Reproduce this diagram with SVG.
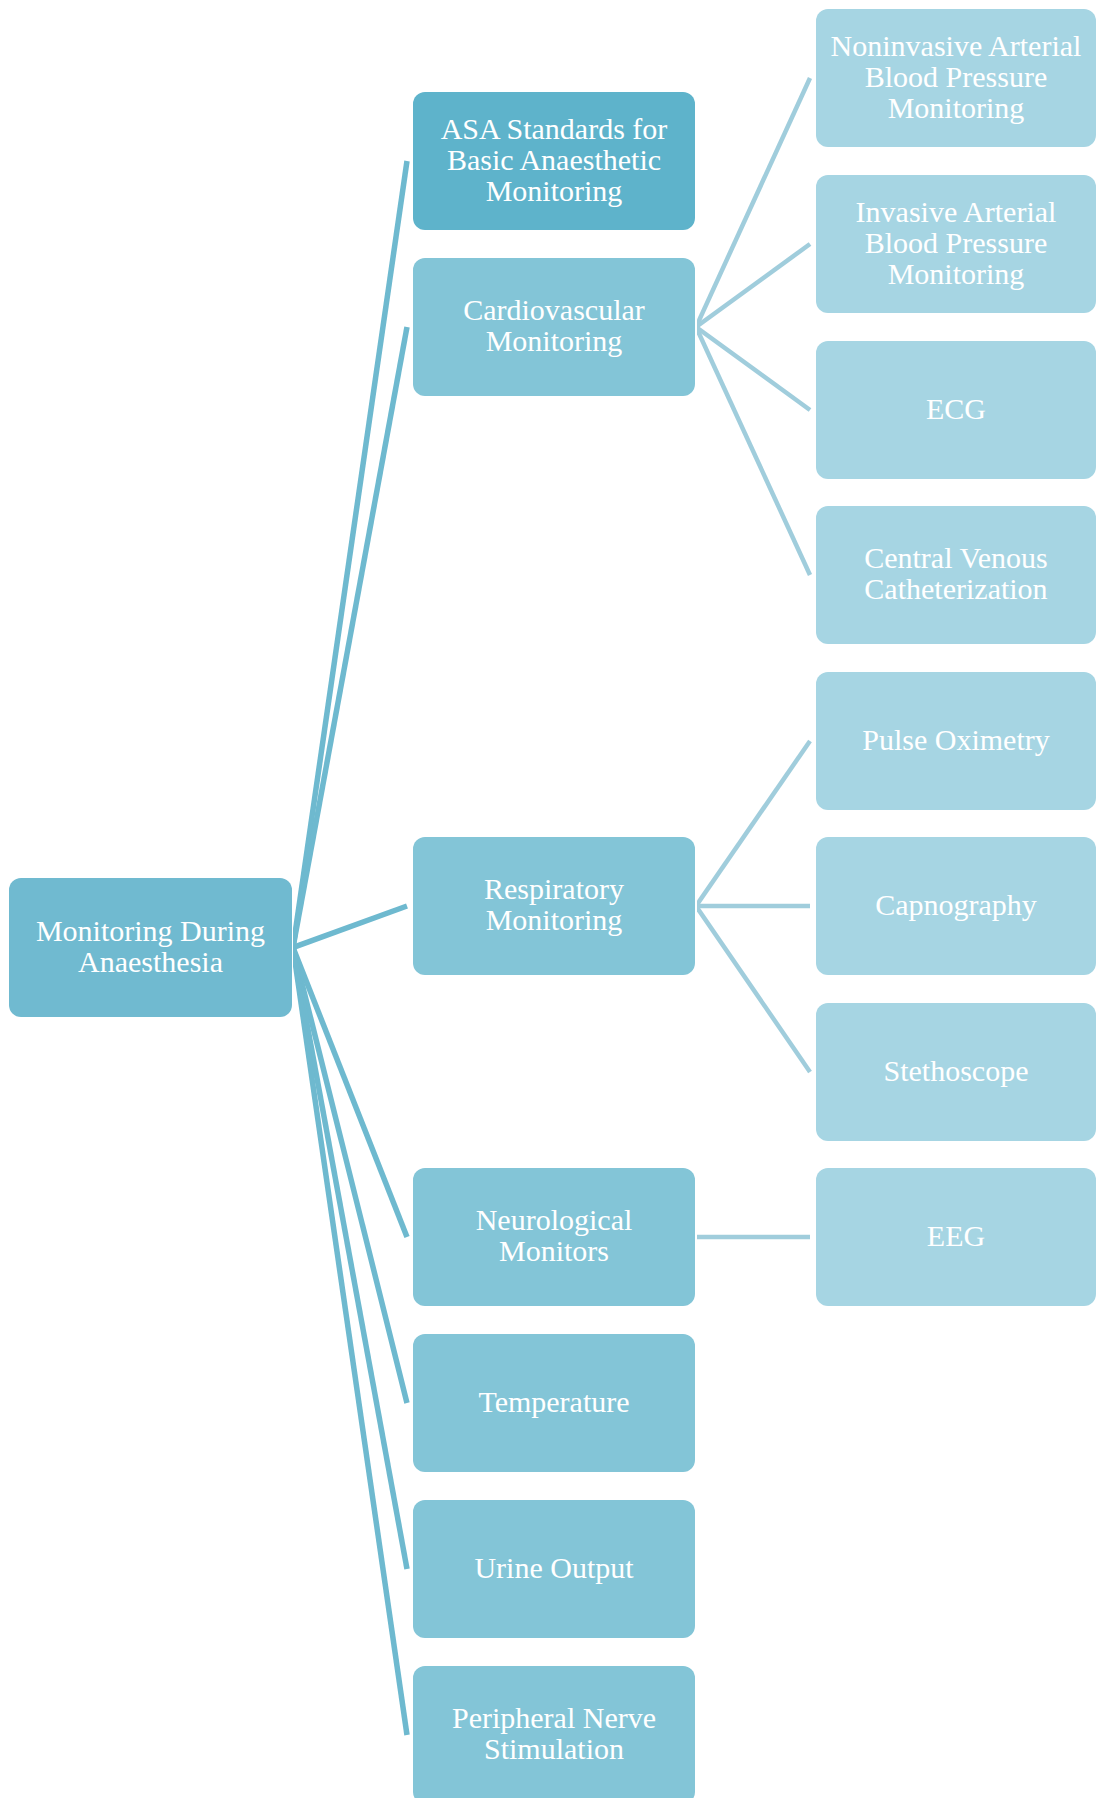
<svg xmlns="http://www.w3.org/2000/svg" width="1096" height="1798" viewBox="0 0 1096 1798">
<style>
.t{font-family:"Liberation Serif","Times New Roman",serif;font-size:30px;fill:#FFFFFF;text-anchor:middle}
.root{fill:#70BAD0}
.asa{fill:#5EB3CB}
.l1{fill:#83C5D7}
.l2{fill:#A6D5E3}
.c1{stroke:#6EB9CF;stroke-width:5.5;fill:none}
.c2{stroke:#A0CDDC;stroke-width:4.5;fill:none}
</style>
<defs>
<clipPath id="clipA"><rect x="293" y="0" width="400" height="1798"/></clipPath>
<clipPath id="clipB"><rect x="697" y="0" width="399" height="1798"/></clipPath>
</defs>
<rect width="1096" height="1798" fill="#FFFFFF"/>
<g id="connectors">
<g clip-path="url(#clipA)">
<line class="c1" x1="287.3" y1="986.8" x2="407" y2="161"/>
<line class="c1" x1="287.3" y1="978.5" x2="407" y2="327"/>
<line class="c1" x1="287.3" y1="949.6" x2="407" y2="906"/>
<line class="c1" x1="287.3" y1="933.0" x2="407" y2="1237"/>
<line class="c1" x1="287.3" y1="924.7" x2="407" y2="1403"/>
<line class="c1" x1="287.3" y1="916.4" x2="407" y2="1569"/>
<line class="c1" x1="287.3" y1="908.1" x2="407" y2="1735"/>
</g>
<g clip-path="url(#clipB)">
<line class="c2" x1="690.3" y1="339.45" x2="810" y2="78"/>
<line class="c2" x1="690.3" y1="331.15" x2="810" y2="244"/>
<line class="c2" x1="690.3" y1="322.85" x2="810" y2="410"/>
<line class="c2" x1="690.3" y1="314.6" x2="810" y2="575"/>
<line class="c2" x1="690.3" y1="914.25" x2="810" y2="741"/>
<line class="c2" x1="690.3" y1="906" x2="810" y2="906"/>
<line class="c2" x1="690.3" y1="897.7" x2="810" y2="1072"/>
<line class="c2" x1="690.3" y1="1237" x2="810" y2="1237"/>
</g>
</g>
<g id="root">
<rect class="root" x="9" y="878" width="283" height="139" rx="12"/>
<text class="t" x="150.5" y="941">Monitoring During</text>
<text class="t" x="150.5" y="972">Anaesthesia</text>
</g>
<g id="asa">
<rect class="asa" x="413" y="92" width="282" height="138" rx="12"/>
<text class="t" x="554" y="139">ASA Standards for</text>
<text class="t" x="554" y="170">Basic Anaesthetic</text>
<text class="t" x="554" y="201">Monitoring</text>
</g>
<g id="cardio">
<rect class="l1" x="413" y="258" width="282" height="138" rx="12"/>
<text class="t" x="554" y="320">Cardiovascular</text>
<text class="t" x="554" y="351">Monitoring</text>
</g>
<g id="resp">
<rect class="l1" x="413" y="837" width="282" height="138" rx="12"/>
<text class="t" x="554" y="899">Respiratory</text>
<text class="t" x="554" y="930">Monitoring</text>
</g>
<g id="neuro">
<rect class="l1" x="413" y="1168" width="282" height="138" rx="12"/>
<text class="t" x="554" y="1230">Neurological</text>
<text class="t" x="554" y="1261">Monitors</text>
</g>
<g id="temp">
<rect class="l1" x="413" y="1334" width="282" height="138" rx="12"/>
<text class="t" x="554" y="1412">Temperature</text>
</g>
<g id="urine">
<rect class="l1" x="413" y="1500" width="282" height="138" rx="12"/>
<text class="t" x="554" y="1578">Urine Output</text>
</g>
<g id="pns">
<rect class="l1" x="413" y="1666" width="282" height="138" rx="12"/>
<text class="t" x="554" y="1728">Peripheral Nerve</text>
<text class="t" x="554" y="1759">Stimulation</text>
</g>
<g id="nibp">
<rect class="l2" x="816" y="9" width="280" height="138" rx="12"/>
<text class="t" x="956" y="56">Noninvasive Arterial</text>
<text class="t" x="956" y="87">Blood Pressure</text>
<text class="t" x="956" y="118">Monitoring</text>
</g>
<g id="ibp">
<rect class="l2" x="816" y="175" width="280" height="138" rx="12"/>
<text class="t" x="956" y="222">Invasive Arterial</text>
<text class="t" x="956" y="253">Blood Pressure</text>
<text class="t" x="956" y="284">Monitoring</text>
</g>
<g id="ecg">
<rect class="l2" x="816" y="341" width="280" height="138" rx="12"/>
<text class="t" x="956" y="419">ECG</text>
</g>
<g id="cvc">
<rect class="l2" x="816" y="506" width="280" height="138" rx="12"/>
<text class="t" x="956" y="568">Central Venous</text>
<text class="t" x="956" y="599">Catheterization</text>
</g>
<g id="pulseox">
<rect class="l2" x="816" y="672" width="280" height="138" rx="12"/>
<text class="t" x="956" y="750">Pulse Oximetry</text>
</g>
<g id="capno">
<rect class="l2" x="816" y="837" width="280" height="138" rx="12"/>
<text class="t" x="956" y="915">Capnography</text>
</g>
<g id="steth">
<rect class="l2" x="816" y="1003" width="280" height="138" rx="12"/>
<text class="t" x="956" y="1081">Stethoscope</text>
</g>
<g id="eeg">
<rect class="l2" x="816" y="1168" width="280" height="138" rx="12"/>
<text class="t" x="956" y="1246">EEG</text>
</g>
</svg>
